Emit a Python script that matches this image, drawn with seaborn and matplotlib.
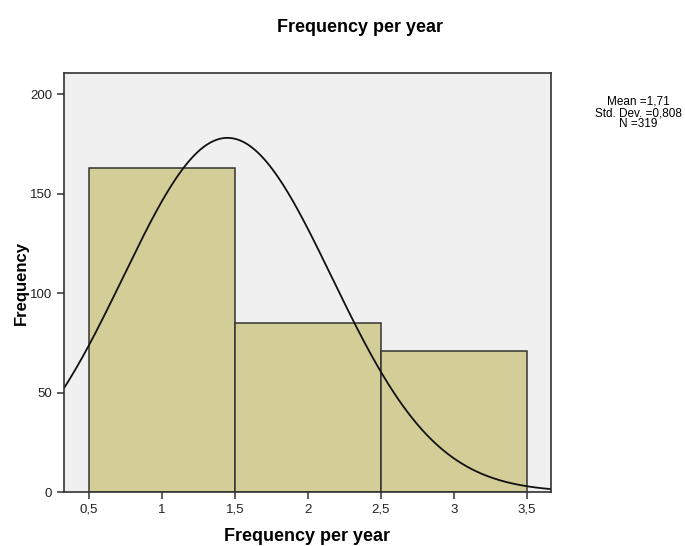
import numpy as np
import pandas as pd
import matplotlib
matplotlib.use("Agg")
import matplotlib.pyplot as plt
import seaborn as sb

# data
values = [1, 2, 3]
counts = [163, 85, 71]
bin_edges = [0.5, 1.5, 2.5, 3.5]
x_ticks = [0.5, 1, 1.5, 2, 2.5, 3, 3.5]
x_tick_labels = ['0,5', '1', '1,5', '2', '2,5', '3', '3,5']
y_ticks = [0, 50, 100, 150, 200]
stats_text = 'Mean =1,71\nStd. Dev. =0,808\nN =319'
# normal curve as drawn in the picture
curve_mean = 1.45
curve_sd = 0.715
n_total = 319

sb.set_style('white')
plt.rcParams['font.family'] = ['Liberation Sans', 'DejaVu Sans']
plt.rcParams['text.color'] = 'black'
plt.rcParams['axes.labelcolor'] = 'black'

df = pd.DataFrame({'value': values, 'count': counts})

fig = plt.figure(figsize=(6.85, 5.46), dpi=100)
ax = fig.add_axes([0.0934, 0.0989, 0.7106, 0.7671])
ax.set_facecolor('#F0F0F0')

sb.histplot(data=df, x='value', weights='count', bins=bin_edges, ax=ax,
            color='#D3CE97', alpha=1, edgecolor='#333333', linewidth=1.1)

xs = np.linspace(0.33, 3.67, 300)
dens = n_total / (curve_sd * np.sqrt(2 * np.pi)) * np.exp(-(xs - curve_mean) ** 2 / (2 * curve_sd ** 2))
sb.lineplot(x=xs, y=dens, ax=ax, color='#111111', linewidth=1.3)

ax.set_xlim(0.33, 3.665)
ax.set_ylim(0, 210.5)
ax.set_xticks(x_ticks)
ax.set_xticklabels(x_tick_labels)
ax.set_yticks(y_ticks)
ax.tick_params(direction='out', length=5, width=1.1, colors='#333333', labelsize=9.5, labelcolor='#222222')
ax.tick_params(axis='both', which='both', bottom=True, left=True)
for s in ax.spines.values():
    s.set_color('#333333')
    s.set_linewidth(1.2)

ax.set_xlabel('Frequency per year', fontsize=13, fontweight='bold', labelpad=9)
ax.set_ylabel('Frequency', fontsize=12, fontweight='bold', labelpad=1)
fig.text(0.525, 0.95, 'Frequency per year', ha='center', va='center', fontsize=13, fontweight='bold')
fig.text(0.932, 0.793, stats_text, ha='center', va='center', fontsize=8.5, linespacing=0.9)

fig.savefig('out.png', dpi=100)
